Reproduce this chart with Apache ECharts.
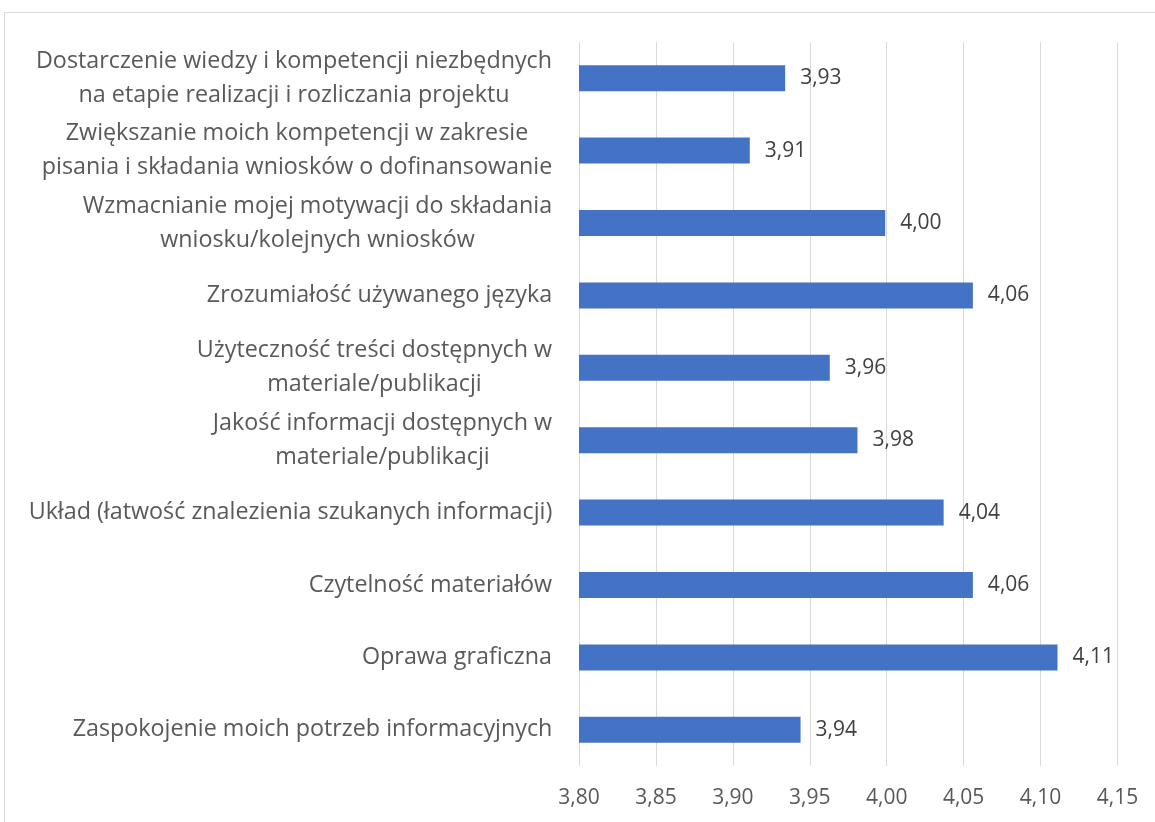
<!DOCTYPE html>
<html><head><meta charset="utf-8">
<script src="https://cdn.jsdelivr.net/npm/echarts@6/dist/echarts.min.js"></script>
<style>html,body{margin:0;padding:0;background:#fff}#c{width:1155px;height:822px}</style>
</head><body><div id="c"></div>
<script>
const categories = [
  "Dostarczenie wiedzy i kompetencji niezbędnych\nna etapie realizacji i rozliczania projektu",
  "Zwiększanie moich kompetencji w zakresie\npisania i składania wniosków o dofinansowanie",
  "Wzmacnianie mojej motywacji do składania\nwniosku/kolejnych wniosków",
  "Zrozumiałość używanego języka",
  "Użyteczność treści dostępnych w\nmateriale/publikacji",
  "Jakość informacji dostępnych w\nmateriale/publikacji",
  "Układ (łatwość znalezienia szukanych informacji)",
  "Czytelność materiałów",
  "Oprawa graficzna",
  "Zaspokojenie moich potrzeb informacyjnych"
];
const values = [3.934, 3.911, 3.999, 4.056, 3.963, 3.981, 4.037, 4.056, 4.111, 3.944];
const xMin = 3.80, xMax = 4.15, xStep = 0.05;

const FONT = '"Open Sans"';
const LABEL_SIZE = 23.3;
const NUM_SIZE = 21;
const ctx = document.createElement('canvas').getContext('2d');
ctx.font = LABEL_SIZE + 'px ' + FONT;
const rich = {};
categories.forEach((c, i) => {
  const w = Math.max(...c.split('\n').map(s => ctx.measureText(s).width));
  rich['l' + i] = {width: Math.ceil(w) + 1, align: 'center', fontFamily: FONT, fontSize: LABEL_SIZE, color: '#595959', lineHeight: 34};
});
const fmt = v => v.toFixed(2).replace('.', ',');

const chart = echarts.init(document.getElementById('c'), null, {renderer: 'canvas'});
chart.setOption({
  animation: false,
  textStyle: {fontFamily: FONT},
  graphic: [{type: 'rect', shape: {x: 4.5, y: 12.5, width: 1300, height: 1000}, style: {fill: 'none', stroke: '#d9d9d9', lineWidth: 1}, silent: true}],
  grid: {left: 579, right: 37.5, top: 42, bottom: 56},
  xAxis: {
    type: 'value', min: xMin, max: xMax, interval: xStep,
    axisLine: {show: false}, axisTick: {show: false},
    splitLine: {show: true, lineStyle: {color: '#d9d9d9', width: 1}},
    axisLabel: {formatter: v => fmt(v), color: '#595959', fontSize: NUM_SIZE, fontFamily: FONT, margin: 22}
  },
  yAxis: {
    type: 'category', data: categories, inverse: true,
    axisLine: {show: false}, axisTick: {show: false},
    axisLabel: {
      margin: 26, align: 'right',
      formatter: (v, i) => v.split('\n').map(s => '{l' + i + '|' + s + '}').join('\n'),
      rich: rich
    }
  },
  series: [{
    type: 'bar', data: values, barWidth: 26,
    itemStyle: {color: '#4472C4'},
    label: {show: true, position: 'right', distance: 15, formatter: p => fmt(p.value), color: '#404040', fontSize: NUM_SIZE, fontFamily: FONT}
  }]
});
</script></body></html>
